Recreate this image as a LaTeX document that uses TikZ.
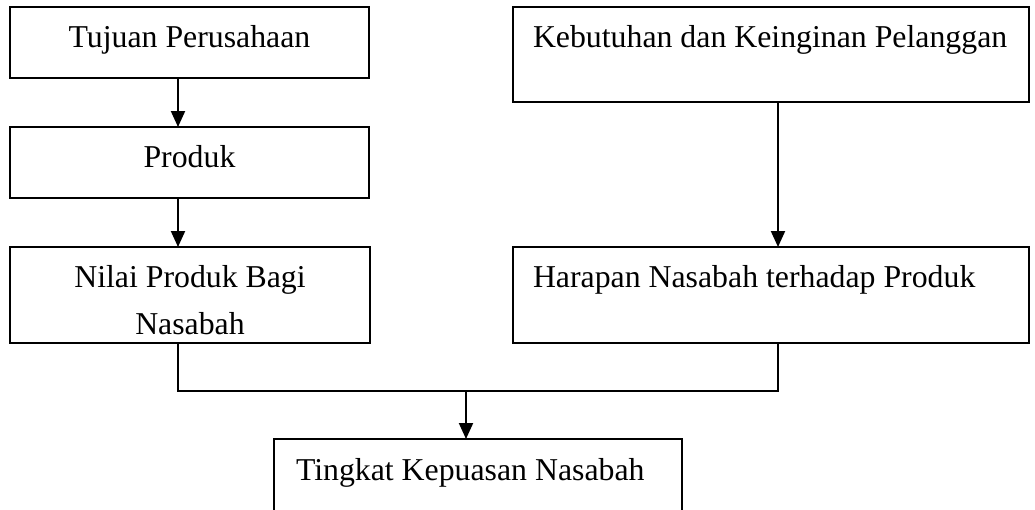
\documentclass[tikz,border=0pt]{standalone}
\usepackage{fontspec}
\setmainfont{Liberation Serif}
\usetikzlibrary{arrows.meta}
\begin{document}
\begin{tikzpicture}[x=1pt,y=-1pt,
  boxnode/.style={draw=black, line width=2pt, fill=white, rectangle, inner sep=0pt, outer sep=0pt, anchor=north west},
  txt/.style={inner sep=0pt, outer sep=0pt, font=\fontsize{31.8}{47.7}\selectfont},
  link/.style={draw=black, line width=2pt},
  arr/.style={link, -{Triangle[length=16pt,width=14pt]}}]
\useasboundingbox (0,0) rectangle (1035,509);
\fill[white] (0,0) rectangle (1035,509);
\clip (0,0) rectangle (1035,509);
% boxes
\node[boxnode, minimum width=359pt, minimum height=71pt] (b1) at (10,7) {};
\node[boxnode, minimum width=359pt, minimum height=71pt] (b2) at (10,127) {};
\node[boxnode, minimum width=360pt, minimum height=96pt] (b3) at (10,247) {};
\node[boxnode, minimum width=516pt, minimum height=95pt] (b4) at (513,7) {};
\node[boxnode, minimum width=516pt, minimum height=96pt] (b5) at (513,247) {};
\node[boxnode, minimum width=408pt, minimum height=90pt] (b6) at (274,439) {};
% texts
\node[txt, anchor=base] (t1) at ([yshift=-40pt]b1.north) {Tujuan Perusahaan};
\node[txt, anchor=base] (t2) at ([yshift=-40pt]b2.north) {Produk};
\node[txt, anchor=north, align=center] (t3) at ([yshift=-18pt]b3.north) {Nilai Produk Bagi\\Nasabah};
\node[txt, anchor=base west] (t4) at ([xshift=20pt,yshift=-40pt]b4.north west) {Kebutuhan dan Keinginan Pelanggan};
\node[txt, anchor=base west] (t5) at ([xshift=20pt,yshift=-40pt]b5.north west) {Harapan Nasabah terhadap Produk};
\node[txt, anchor=base west] (t6) at ([xshift=22pt,yshift=-41pt]b6.north west) {Tingkat Kepuasan Nasabah};
% connectors
\draw[arr] ([xshift=168pt]b1.south west) -- ([xshift=168pt]b2.north west);
\draw[arr] ([xshift=168pt]b2.south west) -- ([xshift=168pt]b3.north west);
\draw[arr] ([xshift=265pt]b4.south west) -- ([xshift=265pt]b5.north west);
\coordinate (p1) at ([xshift=168pt]b3.south west);
\coordinate (p2) at ([xshift=265pt]b5.south west);
\coordinate (bus) at (0,391);
\coordinate (q) at ([xshift=192pt]b6.north west);
\draw[link] (p1) -- (p1 |- bus) -- (p2 |- bus) -- (p2);
\draw[arr] (q |- bus) -- (q);
\end{tikzpicture}
\end{document}
